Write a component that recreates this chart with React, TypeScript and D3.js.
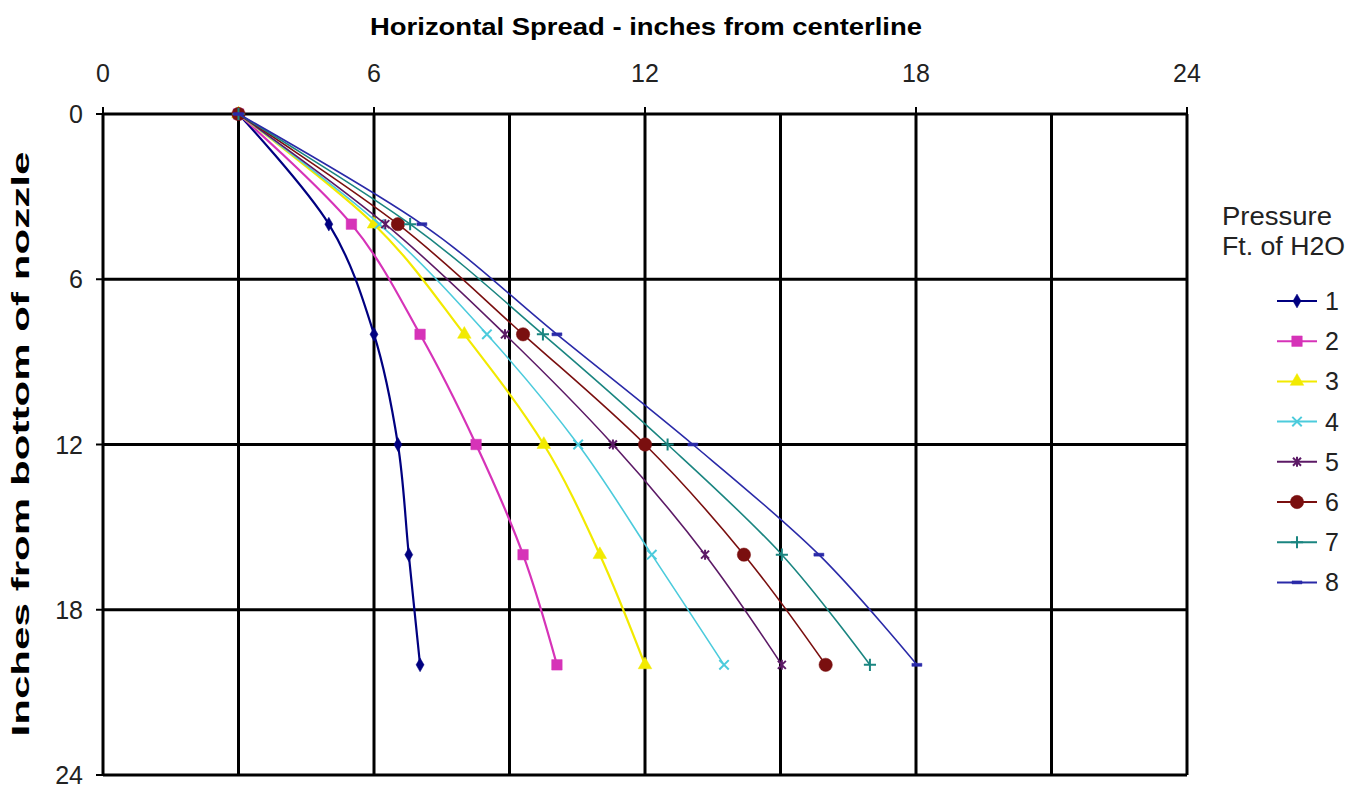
import React from "react";
import * as d3 from "d3";

const depths = [0, 4, 8, 12, 16, 20];
const seriesNames = ["1", "2", "3", "4", "5", "6", "7", "8"];
const s1 = [3, 5.0, 6.0, 6.53, 6.77, 7.02];
const s2 = [3, 5.5, 7.02, 8.26, 9.3, 10.05];
const s3 = [3, 6.0, 8.0, 9.76, 11.0, 12.0];
const s4 = [3, 6.12, 8.5, 10.52, 12.15, 13.75];
const s5 = [3, 6.25, 8.9, 11.29, 13.33, 15.03];
const s6 = [3, 6.53, 9.3, 12.0, 14.19, 16.0];
const s7 = [3, 6.8, 9.74, 12.5, 15.03, 16.98];
const s8 = [3, 7.06, 10.05, 13.06, 15.85, 18.02];
const seriesValues = [s1, s2, s3, s4, s5, s6, s7, s8];
const colors = ["#000080", "#d633b8", "#f2ea00", "#4ccbdc", "#5c1a66", "#7a0f0f", "#1a8580", "#2a2aa8"];
const markers = ["diamond", "square", "triangle", "x", "star", "circle", "plus", "dash"];
const xTicks = [0, 6, 12, 18, 24];
const xGrid = [0, 3, 6, 9, 12, 15, 18, 21, 24];
const yTicks = [0, 6, 12, 18, 24];

function markerPath(kind: string): { d: string; fill: boolean } {
  switch (kind) {
    case "diamond":
      return { d: d3.symbol(d3.symbolDiamond, 55)() as string, fill: true };
    case "square":
      return { d: d3.symbol(d3.symbolSquare, 110)() as string, fill: true };
    case "triangle":
      return { d: d3.symbol(d3.symbolTriangle, 80)() as string, fill: true };
    case "x":
      return { d: d3.symbol(d3.symbolX, 60)() as string, fill: false };
    case "star":
      return { d: "M-4,-4L4,4M-4,4L4,-4M0,-5L0,5", fill: false };
    case "circle":
      return { d: d3.symbol(d3.symbolCircle, 140)() as string, fill: true };
    case "plus":
      return { d: d3.symbol(d3.symbolPlus, 50)() as string, fill: false };
    default:
      return { d: "M-5,-1.5H5V1.5H-5Z", fill: true };
  }
}

export default function App() {
  const x = d3.scaleLinear().domain([0, 24]).range([103, 1187]);
  const y = d3.scaleLinear().domain([0, 24]).range([114, 775]);
  const line = d3
    .line<[number, number]>()
    .x((d) => x(d[0]))
    .y((d) => y(d[1]))
    .curve(d3.curveCatmullRom.alpha(0));
  const font = "'Liberation Sans', Arial, sans-serif";
  const legendY = (i: number) => 301 + i * 40.2;

  return (
    <svg
      width={1365}
      height={792}
      style={{ position: "absolute", left: 0, top: 0, background: "#fff" }}
      fontFamily={font}
    >
      <rect x={0} y={0} width={1365} height={792} fill="#fff" />
      {/* grid */}
      {xGrid.map((v) => (
        <line key={"gx" + v} x1={x(v)} x2={x(v)} y1={y(0)} y2={y(24)} stroke="#000" strokeWidth={3} />
      ))}
      {yTicks.map((v) => (
        <line key={"gy" + v} x1={x(0)} x2={x(24)} y1={y(v)} y2={y(v)} stroke="#000" strokeWidth={3} />
      ))}
      {/* ticks */}
      {xTicks.map((v) => (
        <line key={"tx" + v} x1={x(v)} x2={x(v)} y1={y(0) - 7} y2={y(0)} stroke="#000" strokeWidth={2} />
      ))}
      {yTicks.map((v) => (
        <line key={"ty" + v} x1={x(0) - 7} x2={x(0)} y1={y(v)} y2={y(v)} stroke="#000" strokeWidth={2} />
      ))}
      {xTicks.map((v) => (
        <text key={"lx" + v} x={x(v)} y={82} fontSize={25} textAnchor="middle" fill="#222">
          {v}
        </text>
      ))}
      {yTicks.map((v) => (
        <text key={"ly" + v} x={83} y={y(v) + 9} fontSize={25} textAnchor="end" fill="#222">
          {v}
        </text>
      ))}
      {/* titles */}
      <text
        x={646}
        y={35}
        fontSize={23}
        fontWeight="bold"
        textAnchor="middle"
        textLength={552}
        lengthAdjust="spacingAndGlyphs"
        fill="#000"
      >
        Horizontal Spread - inches from centerline
      </text>
      <text
        transform={`translate(29,444) rotate(-90)`}
        fontSize={24}
        fontWeight="bold"
        textAnchor="middle"
        textLength={585}
        lengthAdjust="spacingAndGlyphs"
        fill="#000"
      >
        Inches from bottom of nozzle
      </text>
      {/* series */}
      {seriesValues.map((vals, i) => {
        const pts: [number, number][] = vals.map((v, j) => [v, depths[j]]);
        const m = markerPath(markers[i]);
        return (
          <g key={"s" + i}>
            <path d={line(pts) as string} fill="none" stroke={colors[i]} strokeWidth={i < 3 ? 2.2 : 1.6} />
            {pts.map((p, j) => (
              <path
                key={j}
                d={m.d}
                transform={`translate(${x(p[0])},${y(p[1])})`}
                fill={m.fill ? colors[i] : "none"}
                stroke={colors[i]}
                strokeWidth={m.fill ? 0.5 : 2}
              />
            ))}
          </g>
        );
      })}
      {/* legend */}
      <text x={1222} y={225} fontSize={25} fill="#222" textLength={110} lengthAdjust="spacingAndGlyphs">
        Pressure
      </text>
      <text x={1222} y={255} fontSize={25} fill="#222" textLength={123} lengthAdjust="spacingAndGlyphs">
        Ft. of H2O
      </text>
      {seriesNames.map((n, i) => {
        const m = markerPath(markers[i]);
        const ly = legendY(i);
        return (
          <g key={"lg" + i}>
            <line x1={1277} x2={1317} y1={ly} y2={ly} stroke={colors[i]} strokeWidth={2} />
            <path
              d={m.d}
              transform={`translate(1297,${ly})`}
              fill={m.fill ? colors[i] : "none"}
              stroke={colors[i]}
              strokeWidth={m.fill ? 0.5 : 2}
            />
            <text x={1325} y={ly + 9} fontSize={25} fill="#222">
              {n}
            </text>
          </g>
        );
      })}
    </svg>
  );
}
